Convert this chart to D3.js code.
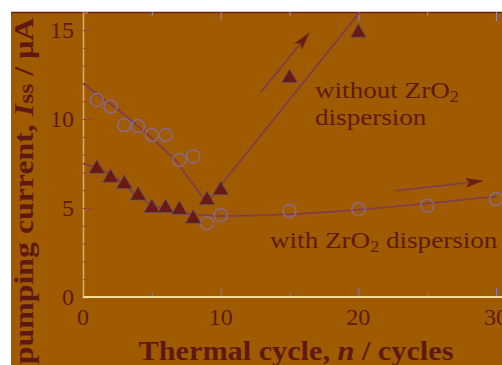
<!DOCTYPE html>
<html>
<head>
<meta charset="utf-8">
<script src="https://cdn.jsdelivr.net/npm/d3@7"></script>
<style>
  body { margin: 0; background: #fff; }
  svg { display: block; }
  text { font-family: "Liberation Serif", "DejaVu Serif", serif; fill: #5e1a12; }
</style>
</head>
<body>
<div id="chart"></div>
<script>
// measured points (triangles / circles)
const triCycles = [1, 2, 3, 4, 5, 6, 7, 8, 9, 10, 15, 20];
const triCurrent = [7.2, 6.7, 6.35, 5.7, 5.0, 5.0, 4.9, 4.4, 5.45, 6.0, 12.3, 14.85];
const circCycles = [1, 2, 3, 4, 5, 6, 7, 8, 9, 10, 15, 20, 25, 30];
const circCurrent = [11.07, 10.7, 9.66, 9.6, 9.1, 9.1, 7.7, 7.9, 4.15, 4.6, 4.83, 4.93, 5.13, 5.5];

// hand-drawn trend lines
const withoutX = [0, 2.6, 5.2, 6.7, 9.0, 20.1];
const withoutY = [12.0, 10.5, 8.8, 7.7, 5.3, 16.0];
const withX = [0, 2, 4.3, 6, 8.1, 10, 15, 20, 25, 30];
const withY = [7.5, 6.9, 5.5, 4.9, 4.65, 4.55, 4.65, 4.9, 5.25, 5.65];

// arrows [x1, y1, x2, y2]
const arrowUp = [12.9, 11.5, 16.4, 14.8];
const arrowRight = [22.7, 5.97, 29.0, 6.52];

const xTicks = [0, 10, 20, 30];
const yTicks = [0, 5, 10, 15];

const W = 502, H = 365;
const bg = '#a05a00', ink = '#5e1a12', lineCol = '#7d3a55';

const svg = d3.select('#chart').append('svg')
  .attr('width', W).attr('height', H);

svg.append('rect').attr('x', 11).attr('y', 12)
  .attr('width', W - 11).attr('height', H - 12).attr('fill', bg);

const x = d3.scaleLinear().domain([0, 30]).range([83, 496]);
const y = d3.scaleLinear().domain([0, 16]).range([297, 12.2]);

// top border
svg.append('line').attr('x1', 11).attr('x2', W).attr('y1', 12.5).attr('y2', 12.5)
  .attr('stroke', '#6a1e14').attr('stroke-width', 1.5);

// left axis with inward ticks
const yAxis = d3.axisRight(y).tickValues(d3.range(0, 17, 1))
  .tickSize(5).tickFormat('');
svg.append('g').attr('transform', `translate(${x(0)},0)`).call(yAxis)
  .call(g => g.select('.domain').attr('stroke', '#c8b48a').attr('stroke-width', 1.5))
  .call(g => g.selectAll('.tick line').attr('stroke', '#a83838')
    .attr('x2', d => d % 5 === 0 ? 9 : 5));

// bottom axis
const xAxis = d3.axisTop(x).tickValues([5, 10, 15, 20, 25, 30])
  .tickSize(5).tickFormat('');
svg.append('g').attr('transform', `translate(0,${y(0)})`).call(xAxis)
  .call(g => g.select('.domain').remove())
  .call(g => g.selectAll('.tick line').attr('stroke', '#8a7ab8')
    .attr('y2', d => d % 10 === 0 ? -9 : -4));
svg.append('line').attr('x1', x(0)).attr('x2', W).attr('y1', y(0)).attr('y2', y(0))
  .attr('stroke', '#f2dc9a').attr('stroke-width', 2);

// top axis ticks
svg.append('g').attr('transform', `translate(0,12)`)
  .call(d3.axisBottom(x).tickValues([5, 10, 15, 20, 25, 30]).tickSize(5).tickFormat(''))
  .call(g => g.select('.domain').remove())
  .call(g => g.selectAll('.tick line').attr('stroke', '#9a8ab8')
    .attr('y2', d => d % 10 === 0 ? 9 : 4));

// tick labels
svg.append('g').selectAll('text').data(yTicks).join('text')
  .attr('x', 74).attr('y', d => y(d) + 8)
  .attr('text-anchor', 'end').attr('font-size', 24)
  .text(d => d);
svg.append('g').selectAll('text').data(xTicks).join('text')
  .attr('x', d => x(d)).attr('y', 325)
  .attr('text-anchor', 'middle').attr('font-size', 24)
  .text(d => d);

// axis titles (the original lettering is a bit stretched)
const xt = svg.append('text').attr('transform', 'translate(296,360) scale(1.12,1)')
  .attr('text-anchor', 'middle').attr('font-size', 27).attr('font-weight', 'bold');
xt.append('tspan').text('Thermal cycle, ');
xt.append('tspan').attr('font-style', 'italic').text('n');
xt.append('tspan').text(' / cycles');

const yt = svg.append('text').attr('transform', 'translate(33,191) rotate(-90) scale(1.18,1)')
  .attr('text-anchor', 'middle').attr('font-size', 27).attr('font-weight', 'bold');
yt.append('tspan').text('pumping current, ');
yt.append('tspan').attr('font-style', 'italic').text('I');
yt.append('tspan').attr('font-size', 22).text('ss');
yt.append('tspan').text(' / μA');

// trend lines
const line = d3.line().x(d => x(d[0])).y(d => y(d[1]));
svg.append('path').datum(d3.zip(withoutX, withoutY)).attr('d', line)
  .attr('fill', 'none').attr('stroke', lineCol).attr('stroke-width', 1.6);
svg.append('path').datum(d3.zip(withX, withY)).attr('d', line.curve(d3.curveMonotoneX))
  .attr('fill', 'none').attr('stroke', lineCol).attr('stroke-width', 1.6);

// arrows
svg.append('defs').append('marker').attr('id', 'head')
  .attr('viewBox', '0 0 18 10').attr('refX', 17).attr('refY', 5)
  .attr('markerWidth', 18).attr('markerHeight', 10).attr('markerUnits', 'userSpaceOnUse')
  .attr('orient', 'auto')
  .append('path').attr('d', 'M0,0 L18,5 L0,10 L4,5 Z').attr('fill', '#6a1e14');
[arrowUp, arrowRight].forEach(a => {
  svg.append('line')
    .attr('x1', x(a[0])).attr('y1', y(a[1]))
    .attr('x2', x(a[2])).attr('y2', y(a[3]))
    .attr('stroke', lineCol).attr('stroke-width', 1.6)
    .attr('marker-end', 'url(#head)');
});

// markers
svg.append('g').selectAll('circle').data(d3.zip(circCycles, circCurrent)).join('circle')
  .attr('cx', d => x(d[0])).attr('cy', d => y(d[1])).attr('r', 6.5)
  .attr('fill', 'none').attr('stroke', '#8a6a8a').attr('stroke-width', 1.5);

const tri = d3.symbol().type(d3.symbolTriangle).size(105);
svg.append('g').selectAll('path').data(d3.zip(triCycles, triCurrent)).join('path')
  .attr('transform', d => `translate(${x(d[0])},${y(d[1])})`)
  .attr('d', tri).attr('fill', '#6a1a12').attr('stroke', '#4a5a8a').attr('stroke-width', 0.6);

// annotations
const t1 = svg.append('text').attr('transform', 'translate(315,98) scale(1.13,1)')
  .attr('font-size', 24);
t1.append('tspan').text('without ZrO');
t1.append('tspan').attr('font-size', 16).attr('dy', 4).text('2');
svg.append('text').attr('transform', 'translate(315,125) scale(1.13,1)')
  .attr('font-size', 24).text('dispersion');

const t2 = svg.append('text').attr('transform', 'translate(270,248) scale(1.13,1)')
  .attr('font-size', 24);
t2.append('tspan').text('with ZrO');
t2.append('tspan').attr('font-size', 16).attr('dy', 4).text('2');
t2.append('tspan').attr('dy', -4).text(' dispersion');
</script>
</body>
</html>
